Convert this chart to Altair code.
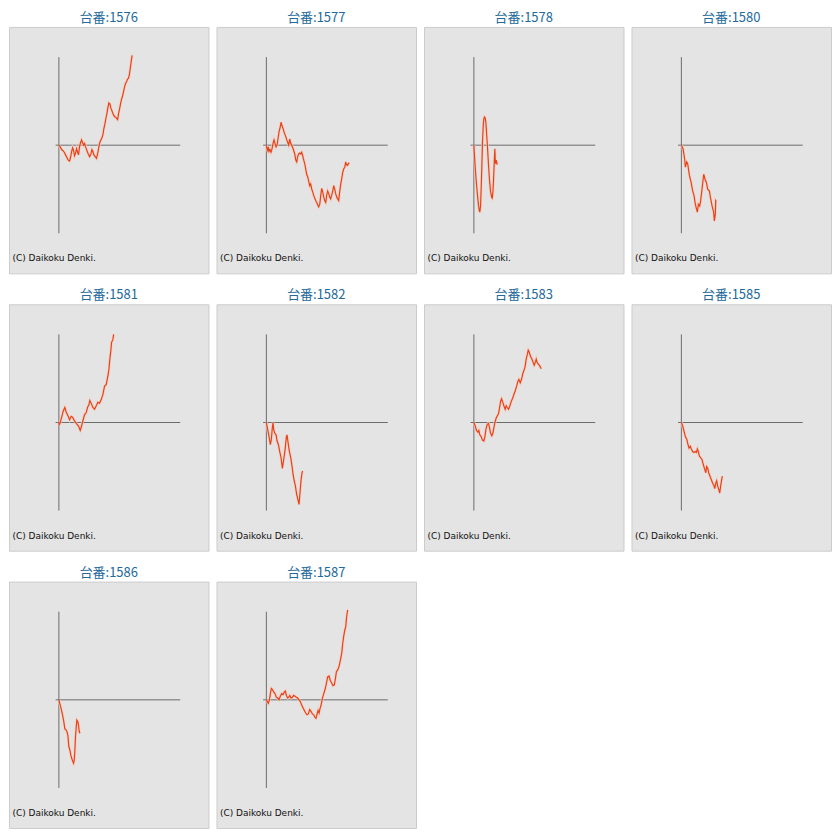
import altair as alt
import pandas as pd

# (x = progress along the horizontal axis in %, y = balance in % of the axis half-height)
m1576 = [(0,0),(1.1,-2),(2.2,-5),(3.3,-6),(4.4,-8),(5.5,-11),(6.6,-14),(7.7,-17),(8.8,-18),(9.6,-14),
         (10.4,-8),(11.3,-3),(12.1,-6),(12.9,-12),(13.7,-9),(14.6,-4),(15.4,-8),(16.2,-11),(17.0,-2),(17.9,3),
         (18.7,6),(19.5,3),(20.3,0),(21.2,2),(22.0,-2),(23.1,-6),(24.2,-10),(25.3,-13),(26.4,-10),(27.2,-5),
         (28.0,-7),(28.8,-11),(29.9,-13),(31.0,-15),(31.9,-10),(32.7,-4),(33.5,2),(34.3,5),(35.4,8),(36.3,12),
         (37.1,19),(37.9,24),(38.7,30),(39.6,36),(40.4,43),(41.2,48),(42.0,47),(42.9,42),(44.0,38),(45.1,34),
         (46.2,32),(47.3,31),(48.4,29),(49.2,36),(50.0,41),(50.8,47),(51.6,52),(52.5,56),(53.3,61),(54.1,66),
         (54.9,70),(55.8,72),(56.6,75),(57.4,76),(58.2,81),(58.8,87),(59.3,92),(59.9,98),(60.4,102)]

m1577 = [(0,0),(0.5,-4),(1.1,-6),(1.6,-2),(2.2,-7),(3.0,-5),(3.8,-8),(4.7,-4),(5.5,2),(6.3,6),
         (7.1,2),(8.0,-2),(8.8,0),(9.6,7),(10.4,15),(11.3,20),(12.1,26),(12.9,22),(13.7,19),(14.8,14),
         (15.9,10),(16.8,6),(17.6,3),(18.4,0),(19.2,7),(20.1,2),(20.9,0),(21.7,-3),(22.5,-6),(23.4,-10),
         (24.2,-17),(25.0,-19),(25.8,-13),(26.6,-10),(27.5,-9),(28.3,-10),(29.1,-8),(29.9,-12),(30.8,-17),(31.6,-21),
         (32.4,-27),(33.2,-33),(34.1,-36),(34.9,-41),(35.7,-46),(36.5,-44),(37.4,-50),(38.2,-53),(39.0,-57),(39.8,-60),
         (40.7,-63),(41.5,-65),(42.3,-68),(43.1,-70),(44.0,-67),(44.8,-57),(45.6,-49),(46.4,-53),(47.3,-59),(48.1,-63),
         (48.9,-65),(49.7,-57),(50.5,-52),(51.4,-55),(52.2,-59),(53.0,-61),(53.8,-57),(54.7,-52),(55.5,-46),(56.3,-50),
         (57.1,-55),(58.0,-59),(58.8,-61),(59.6,-63),(60.4,-53),(61.3,-44),(62.1,-38),(62.9,-31),(63.7,-27),(64.6,-25),
         (65.4,-19),(65.9,-22),(66.8,-23),(67.6,-21),(68.4,-20)]

m1578 = [(0,0),(0.5,-12),(1.4,-31),(2.7,-53),(3.8,-68),(4.4,-74),(4.9,-76),(5.5,-69),(6.0,-50),(6.6,-23),
         (7.1,3),(7.7,22),(8.2,30),(8.8,32),(9.3,31),(9.9,26),(10.4,15),(11.3,-4),(12.1,-23),(12.9,-40),
         (13.7,-52),(14.6,-59),(15.1,-60),(15.7,-53),(16.2,-40),(16.8,-19),(17.3,-4),(17.6,-16),(17.9,-21),(18.4,-17),
         (19.2,-22)]

m1580 = [(0,0),(1.4,-4),(2.7,-16),(3.3,-25),(4.4,-19),(5.2,-21),(6.6,-34),(8.0,-42),(9.3,-52),(10.4,-57),
         (11.5,-67),(12.4,-72),(13.2,-76),(14.0,-67),(15.1,-69),(15.9,-63),(17.0,-50),(18.4,-33),(19.8,-40),(20.6,-42),
         (21.7,-50),(23.1,-52),(23.9,-59),(25.3,-69),(26.6,-76),(27.2,-86),(28.0,-78),(28.3,-63),(28.8,-64)]

m1581 = [(0,0),(0.3,-3),(1.1,0),(2.5,7),(3.6,13),(4.9,17),(6.0,12),(7.7,7),(8.8,3),(10.2,7),
         (11.3,6),(12.4,3),(14.3,-1),(16.2,-4),(17.6,-9),(18.7,-4),(19.8,2),(21.2,9),(22.5,11),(23.6,17),
         (24.7,20),(25.5,25),(26.6,22),(28.0,17),(29.4,15),(30.8,19),(32.1,23),(33.5,22),(34.9,26),(36.3,32),
         (37.6,41),(39.0,43),(40.4,53),(41.2,60),(42.0,72),(42.9,83),(43.4,91),(44.5,94),(45.1,100)]

m1582 = [(0,0),(1.1,-8),(2.2,-16),(3.3,-25),(4.1,-19),(4.9,-6),(5.5,0),(6.0,-8),(6.9,-12),(8.0,-14),
         (8.8,-21),(9.9,-25),(11.0,-33),(12.1,-40),(13.2,-52),(14.3,-42),(15.4,-31),(16.5,-16),(17.0,-14),(17.9,-23),
         (19.0,-33),(20.1,-40),(21.2,-50),(22.0,-59),(22.8,-65),(23.9,-72),(25.0,-82),(26.1,-88),(26.9,-93),(27.7,-80),
         (28.6,-65),(29.4,-57),(29.9,-55)]

m1583 = [(0,0),(1.1,-4),(2.2,-9),(3.3,-11),(4.1,-9),(4.9,-14),(6.0,-16),(7.1,-20),(8.2,-21),(9.1,-16),
         (9.9,-8),(11.0,-2),(12.1,-1),(12.9,-6),(13.7,-12),(14.8,-15),(15.7,-12),(16.5,-6),(17.3,0),(18.4,5),
         (19.5,8),(20.3,10),(21.2,17),(22.0,24),(22.8,27),(23.6,24),(24.7,19),(25.8,15),(26.6,19),(27.5,17),
         (28.6,15),(29.7,19),(30.8,24),(32.1,28),(33.0,32),(34.1,36),(35.2,41),(36.3,47),(37.1,49),(38.2,45),
         (39.3,49),(40.4,56),(41.5,60),(42.3,64),(43.1,72),(44.0,77),(44.8,82),(45.6,80),(46.7,75),(47.8,72),
         (48.9,68),(49.7,65),(50.5,68),(51.4,72),(52.2,68),(53.3,66),(54.4,64),(55.5,61)]

m1585 = [(0,0),(1.1,-4),(2.2,-10),(3.3,-16),(4.4,-19),(5.5,-25),(6.3,-29),(7.4,-27),(8.2,-30),(9.3,-33),
         (10.4,-34),(11.5,-33),(12.4,-34),(13.2,-30),(14.0,-33),(14.8,-38),(15.9,-40),(17.0,-42),(18.1,-48),(19.2,-53),
         (20.1,-57),(20.9,-50),(21.7,-52),(22.5,-57),(23.6,-61),(24.7,-65),(25.8,-69),(26.9,-72),(27.5,-75),(28.3,-69),
         (29.1,-66),(29.9,-72),(30.8,-76),(31.6,-80),(32.4,-72),(33.2,-65),(33.8,-61)]

m1586 = [(0,0),(1.1,-6),(2.2,-12),(3.3,-19),(4.1,-25),(4.9,-33),(5.8,-34),(6.6,-36),(7.4,-40),(8.2,-53),
         (9.1,-57),(9.9,-63),(10.7,-67),(11.5,-70),(12.1,-72),(12.6,-69),(13.2,-57),(13.7,-42),(14.3,-31),(14.8,-23),
         (15.7,-25),(16.2,-29),(16.8,-36),(17.3,-38)]

m1587 = [(0,0),(0.8,-2),(1.6,-4),(2.5,0),(3.3,7),(4.1,13),(4.9,12),(6.0,9),(7.1,7),(8.2,3),
         (9.3,2),(10.4,0),(11.5,4),(12.6,7),(13.7,6),(14.8,9),(15.7,10),(16.5,5),(17.6,2),(18.4,3),
         (19.2,5),(20.3,2),(21.4,3),(22.5,5),(23.6,4),(24.7,3),(25.8,2),(26.9,0),(28.0,-2),(29.1,-6),
         (30.2,-9),(31.3,-12),(32.4,-15),(33.5,-17),(34.6,-16),(35.7,-11),(36.8,-13),(37.9,-16),(39.0,-17),(40.1,-20),
         (40.9,-21),(41.8,-16),(42.6,-12),(43.4,-15),(44.2,-10),(45.1,-6),(46.2,2),(47.3,7),(48.4,12),(49.5,19),
         (50.5,26),(51.6,27),(52.7,22),(53.8,19),(54.9,16),(56.0,17),(56.9,24),(57.7,32),(58.8,34),(59.9,38),
         (61.0,45),(62.1,53),(62.9,64),(63.7,72),(64.6,79),(65.4,83),(65.9,91),(66.5,98),(67.0,102)]

machines = ["1576", "1577", "1578", "1580", "1581", "1582", "1583", "1585", "1586", "1587"]
series = [m1576, m1577, m1578, m1580, m1581, m1582, m1583, m1585, m1586, m1587]

X_DOMAIN = [-41.1, 123.3]
Y_DOMAIN = [-145.5, 134.2]

# axis cross lines (in data units)
axis_x = [0, -2.7]
axis_x2 = [0, 100]
axis_y = [-100, 0]
axis_y2 = [100, 0]

note_text = "(C) Daikoku Denki."
note_x = [-38.3]
note_y = [-128.5]


def panel(name, pts):
    xs = alt.Scale(domain=X_DOMAIN, nice=False, zero=False)
    ys = alt.Scale(domain=Y_DOMAIN, nice=False, zero=False)
    df = pd.DataFrame(pts, columns=["g", "d"])
    axes_df = pd.DataFrame({"x": axis_x, "x2": axis_x2, "y": axis_y, "y2": axis_y2})
    rules = alt.Chart(axes_df).mark_rule(color="#6b6b6b", strokeWidth=1).encode(
        x=alt.X("x:Q", scale=xs, axis=None),
        x2="x2:Q",
        y=alt.Y("y:Q", scale=ys, axis=None),
        y2="y2:Q",
    )
    halo = alt.Chart(df).mark_line(color="#f8cdbd", strokeWidth=3, opacity=0.7, clip=True).encode(
        x=alt.X("g:Q", scale=xs, axis=None),
        y=alt.Y("d:Q", scale=ys, axis=None),
    )
    line = alt.Chart(df).mark_line(color="#e6421a", strokeWidth=1.2, clip=True).encode(
        x=alt.X("g:Q", scale=xs, axis=None),
        y=alt.Y("d:Q", scale=ys, axis=None),
    )
    note = alt.Chart(pd.DataFrame({"x": note_x, "y": note_y, "t": [note_text]})).mark_text(
        align="left", baseline="middle", font="DejaVu Sans", fontSize=9, color="#111111"
    ).encode(
        x=alt.X("x:Q", scale=xs, axis=None),
        y=alt.Y("y:Q", scale=ys, axis=None),
        text="t:N",
    )
    return alt.layer(rules, halo, line, note).properties(
        width=200,
        height=247,
        title=alt.TitleParams(
            text=f"台番:{name}",
            font="Noto Sans CJK JP",
            fontSize=13,
            fontWeight="normal",
            color="#23699b",
            anchor="middle",
            offset=2,
        ),
    )


panels = [panel(n, s) for n, s in zip(machines, series)]

chart = (
    alt.concat(*panels, columns=4, spacing={"row": 14, "column": 6})
    .properties(padding={"top": 2, "left": 0, "right": 0, "bottom": 0}, background="white")
    .configure_view(fill="#e4e4e4", stroke="#cccccc", strokeWidth=1)
)

chart.save("out.html", embed_options={"renderer": "svg", "actions": False})
